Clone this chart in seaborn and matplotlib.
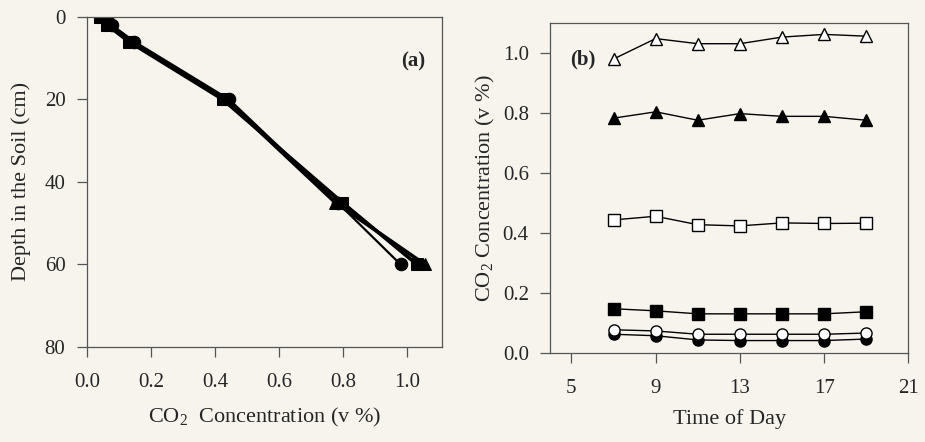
import matplotlib
matplotlib.use("Agg")
import matplotlib.pyplot as plt
import seaborn as sns
import pandas as pd

# ---- data ----
times = [7, 9, 11, 13, 15, 17, 19]
depths = [0, 2, 6, 20, 45, 60]
conc_0cm = [0.063, 0.058, 0.044, 0.042, 0.042, 0.042, 0.047]
conc_2cm = [0.078, 0.074, 0.063, 0.063, 0.063, 0.063, 0.067]
conc_6cm = [0.148, 0.141, 0.131, 0.131, 0.131, 0.131, 0.138]
conc_20cm = [0.444, 0.456, 0.428, 0.424, 0.434, 0.432, 0.433]
conc_45cm = [0.783, 0.804, 0.776, 0.798, 0.789, 0.789, 0.776]
conc_60cm = [0.980, 1.048, 1.031, 1.031, 1.053, 1.062, 1.056]
profile_times = [7, 13, 19]
xticks_a = [0.0, 0.2, 0.4, 0.6, 0.8, 1.0]
yticks_a = [0, 20, 40, 60, 80]
xticks_b = [5, 9, 13, 17, 21]
yticks_b = [0.0, 0.2, 0.4, 0.6, 0.8, 1.0]

sns.set_style("ticks")
plt.rcParams['font.family'] = ['Liberation Serif', 'DejaVu Serif']
plt.rcParams['mathtext.fontset'] = 'custom'
plt.rcParams['mathtext.rm'] = 'Liberation Serif'
plt.rcParams['mathtext.it'] = 'Liberation Serif:italic'
plt.rcParams['mathtext.bf'] = 'Liberation Serif:bold'

bg = '#f6f4ed'
fig = plt.figure(figsize=(9.25, 4.42), dpi=100, facecolor=bg)
axa = fig.add_axes([0.094, 0.215, 0.384, 0.747])
axb = fig.add_axes([0.595, 0.201, 0.387, 0.747])

all_series = [conc_0cm, conc_2cm, conc_6cm, conc_20cm, conc_45cm, conc_60cm]

# ---- panel (a): depth profiles ----
prof_markers = ['o', 's', '^']
prof_lw = [1.6, 2.6, 2.6]
for t, mk, lw in zip(profile_times, prof_markers, prof_lw):
    i = times.index(t)
    xs = [s[i] for s in all_series]
    sns.lineplot(x=xs, y=depths, sort=False, ax=axa, color='black', lw=lw,
                 marker=mk, markersize=9, markeredgecolor='black',
                 markerfacecolor='black')

axa.set_xlim(0, 1.11)
axa.set_ylim(80, 0)
axa.set_xticks(xticks_a)
axa.set_xticklabels([f"{v:.1f}" for v in xticks_a])
axa.set_yticks(yticks_a)
axa.set_xlabel(r"CO$_\mathregular{2}$  Concentration (v %)", fontsize=16, labelpad=10)
axa.set_ylabel("Depth in the Soil (cm)", fontsize=16, labelpad=10)
axa.text(0.918, 0.864, "(a)", transform=axa.transAxes, fontsize=15,
         fontweight='bold', ha='center', va='center')

# ---- panel (b): time series ----
styles = [
    ('o', 'black'), ('o', 'white'), ('s', 'black'),
    ('s', 'white'), ('^', 'black'), ('^', 'white'),
]
for s, (mk, fc) in zip(all_series, styles):
    sns.lineplot(x=times, y=s, ax=axb, color='black', lw=1.0,
                 marker=mk, markersize=8, markeredgecolor='black',
                 markerfacecolor=fc, markeredgewidth=1.0)

axb.set_xlim(4, 21)
axb.set_ylim(0, 1.1)
axb.set_xticks(xticks_b)
axb.set_yticks(yticks_b)
axb.set_yticklabels([f"{v:.1f}" for v in yticks_b])
axb.set_xlabel("Time of Day", fontsize=16, labelpad=8)
axb.set_ylabel(r"CO$_\mathregular{2}$ Concentration (v %)", fontsize=16, labelpad=4)
axb.text(0.055, 0.888, "(b)", transform=axb.transAxes, fontsize=15,
         fontweight='bold', ha='left', va='center')

for ax in (axa, axb):
    ax.set_facecolor(bg)
    for sp in ax.spines.values():
        sp.set_visible(True)
        sp.set_color('#555555')
        sp.set_linewidth(0.9)
    ax.tick_params(direction='out', length=7.5, width=0.9, color='#555555',
                   labelsize=15)
    ax.tick_params(axis='x', pad=11)
    ax.tick_params(axis='y', pad=8)

fig.savefig("out.png", dpi=100, facecolor=bg)
